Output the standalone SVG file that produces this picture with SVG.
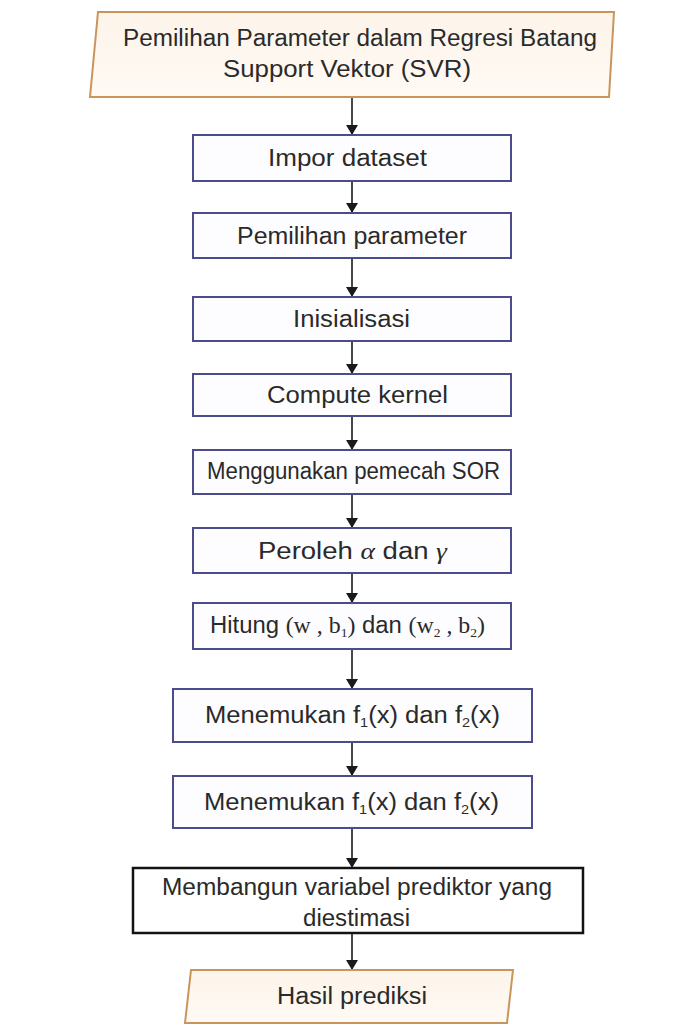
<svg xmlns="http://www.w3.org/2000/svg" width="688" height="1026" viewBox="0 0 688 1026">
  <defs>
    <marker id="arrowhead" markerUnits="userSpaceOnUse" markerWidth="10" markerHeight="12" viewBox="0 0 10 12" refX="10" refY="6" orient="auto">
      <path d="M0,0 L10,6 L0,12 z" fill="#1a1a1a"/>
    </marker>
    <linearGradient id="terminalFill" x1="0" y1="0" x2="0" y2="1">
      <stop offset="0" stop-color="#fdf4ea"/>
      <stop offset="1" stop-color="#fffaf4"/>
    </linearGradient>
  </defs>
  <style>
    .terminal { fill: url(#terminalFill); stroke: #c9955c; stroke-width: 2; }
    .step { fill: #fdfdff; stroke: #4c4c8c; stroke-width: 2; }
    .wide { fill: #ffffff; stroke: #121212; stroke-width: 2.5; }
    .label { font-family: "Liberation Sans", Arial, sans-serif; font-size: 23px; fill: #2a2a2a; }
    .math { font-family: "Liberation Serif", "Times New Roman", serif; }
    .greek { font-family: "Liberation Serif", "Times New Roman", serif; font-style: italic; }
    .sub { font-size: 13px; }
    .flow { stroke: #1a1a1a; stroke-width: 1.6; fill: none; marker-end: url(#arrowhead); }
  </style>

  <rect width="688" height="1026" fill="#ffffff"/>

  <!-- connectors -->
  <g id="connectors">
    <line class="flow" x1="352" y1="97" x2="352" y2="135"/>
    <line class="flow" x1="352" y1="181" x2="352" y2="213"/>
    <line class="flow" x1="352" y1="258" x2="352" y2="297"/>
    <line class="flow" x1="352" y1="341" x2="352" y2="374"/>
    <line class="flow" x1="352" y1="416" x2="352" y2="450"/>
    <line class="flow" x1="352" y1="494" x2="352" y2="528"/>
    <line class="flow" x1="352" y1="573" x2="352" y2="603"/>
    <line class="flow" x1="352" y1="649" x2="352" y2="689"/>
    <line class="flow" x1="352" y1="742" x2="352" y2="776"/>
    <line class="flow" x1="352" y1="828" x2="352" y2="868"/>
    <line class="flow" x1="352" y1="933" x2="352" y2="970"/>
  </g>

  <!-- start terminal -->
  <g id="node-start">
    <polygon class="terminal" points="98,12 614,12 609,97 90,97"/>
    <text class="label" x="123" y="46" font-size="25" textLength="474" lengthAdjust="spacingAndGlyphs">Pemilihan Parameter dalam Regresi Batang</text>
    <text class="label" x="223" y="77" font-size="25" textLength="248" lengthAdjust="spacingAndGlyphs">Support Vektor (SVR)</text>
  </g>

  <g id="node-impor">
    <rect class="step" x="193" y="135" width="318" height="46"/>
    <text class="label" x="268" y="166" textLength="159" lengthAdjust="spacingAndGlyphs">Impor dataset</text>
  </g>

  <g id="node-parameter">
    <rect class="step" x="193" y="213" width="318" height="45"/>
    <text class="label" x="237" y="244" textLength="230" lengthAdjust="spacingAndGlyphs">Pemilihan parameter</text>
  </g>

  <g id="node-inisialisasi">
    <rect class="step" x="193" y="297" width="318" height="44"/>
    <text class="label" x="293" y="327" textLength="117" lengthAdjust="spacingAndGlyphs">Inisialisasi</text>
  </g>

  <g id="node-kernel">
    <rect class="step" x="193" y="374" width="318" height="42"/>
    <text class="label" x="267" y="403" textLength="181" lengthAdjust="spacingAndGlyphs">Compute kernel</text>
  </g>

  <g id="node-sor">
    <rect class="step" x="193" y="450" width="318" height="44"/>
    <text class="label" x="207" y="479" font-size="21" textLength="293" lengthAdjust="spacingAndGlyphs">Menggunakan pemecah SOR</text>
  </g>

  <g id="node-alpha-gamma">
    <rect class="step" x="193" y="528" width="318" height="45"/>
    <text class="label" x="258" y="559" textLength="189" lengthAdjust="spacingAndGlyphs">Peroleh <tspan class="greek">α</tspan> dan <tspan class="greek">γ</tspan></text>
  </g>

  <g id="node-hitung">
    <rect class="step" x="193" y="603" width="318" height="46"/>
    <text class="label" x="210" y="633" font-size="21" textLength="275" lengthAdjust="spacingAndGlyphs">Hitung <tspan class="math">(w , b</tspan><tspan class="math sub" baseline-shift="-4">1</tspan><tspan class="math">)</tspan> dan <tspan class="math">(w</tspan><tspan class="math sub" baseline-shift="-4">2</tspan><tspan class="math"> , b</tspan><tspan class="math sub" baseline-shift="-4">2</tspan><tspan class="math">)</tspan></text>
  </g>

  <g id="node-fungsi-1">
    <rect class="step" x="173" y="689" width="359" height="53"/>
    <text class="label" x="205" y="723" textLength="295" lengthAdjust="spacingAndGlyphs">Menemukan f<tspan class="sub" baseline-shift="-4">1</tspan>(x) dan f<tspan class="sub" baseline-shift="-4">2</tspan>(x)</text>
  </g>

  <g id="node-fungsi-2">
    <rect class="step" x="173" y="776" width="359" height="52"/>
    <text class="label" x="204" y="810" textLength="295" lengthAdjust="spacingAndGlyphs">Menemukan f<tspan class="sub" baseline-shift="-4">1</tspan>(x) dan f<tspan class="sub" baseline-shift="-4">2</tspan>(x)</text>
  </g>

  <g id="node-prediktor">
    <rect class="wide" x="133" y="868" width="450" height="65"/>
    <text class="label" x="162" y="895" font-size="24" textLength="390" lengthAdjust="spacingAndGlyphs">Membangun variabel prediktor yang</text>
    <text class="label" x="303" y="926" font-size="24" textLength="107" lengthAdjust="spacingAndGlyphs">diestimasi</text>
  </g>

  <!-- end terminal -->
  <g id="node-hasil">
    <polygon class="terminal" points="191,970 513,970 507,1023 185,1023"/>
    <text class="label" x="277" y="1004" textLength="150" lengthAdjust="spacingAndGlyphs">Hasil prediksi</text>
  </g>
</svg>
